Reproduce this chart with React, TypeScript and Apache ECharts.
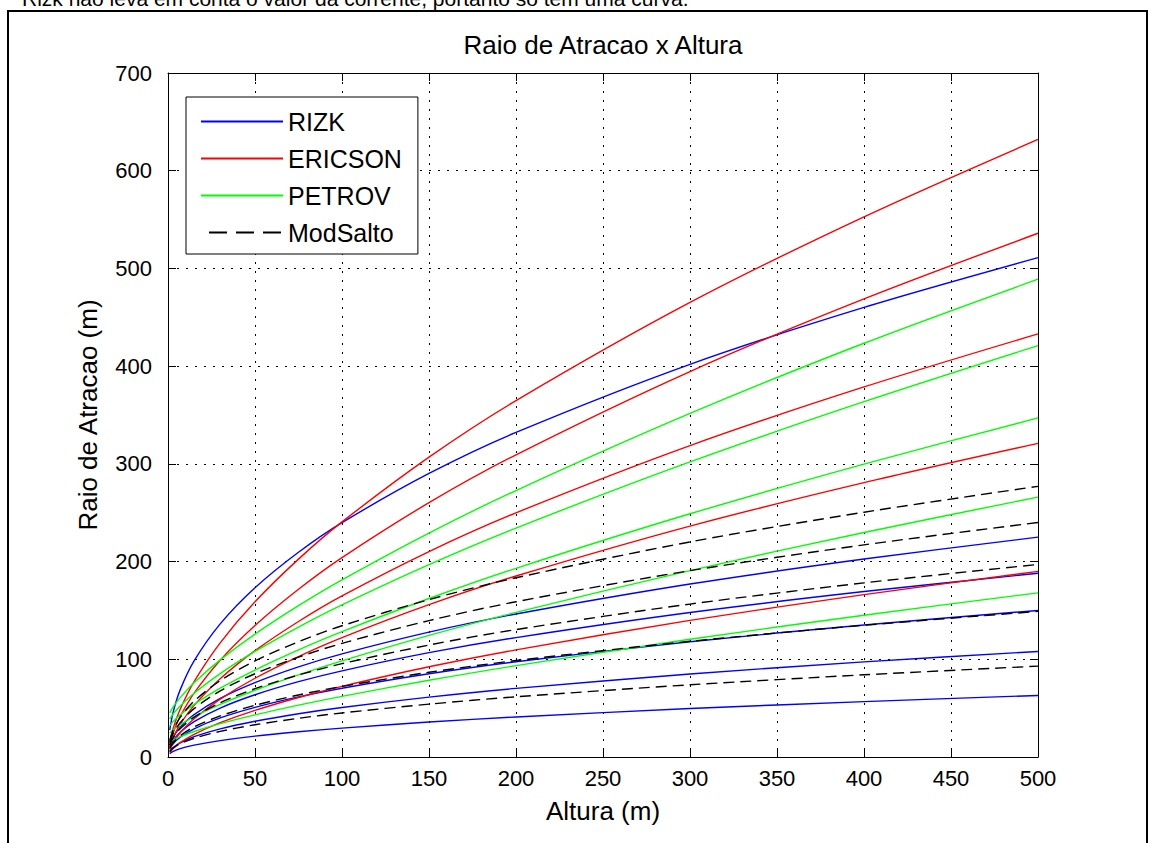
import React, { useEffect, useRef } from "react";
import * as echarts from "echarts";

// Altura (m) sample positions
const ALTURA = [1, 3, 7, 15, 30, 50, 75, 100, 150, 200, 300, 400, 500];

const X_TICKS = [0, 50, 100, 150, 200, 250, 300, 350, 400, 450, 500];
const Y_TICKS = [0, 100, 200, 300, 400, 500, 600, 700];

// RIZK (blue)
const RIZK_CURVES = [
  [27.5, 46.2, 68.7, 98.3, 136.2, 173.2, 209.5, 239.8, 290.2, 332.2, 401.9, 460.1, 511],
  [12.1, 20.3, 30.3, 43.3, 60.0, 76.2, 92.3, 105.6, 127.8, 146.3, 177.0, 202.6, 225],
  [10.1, 17.0, 25.3, 36.2, 50.1, 63.7, 77.1, 88.2, 106.8, 122.2, 147.9, 169.3, 188],
  [8.1, 13.6, 20.2, 28.9, 40.0, 50.8, 61.5, 70.4, 85.2, 97.5, 118.0, 135.1, 150],
  [5.8, 9.8, 14.5, 20.8, 28.8, 36.6, 44.3, 50.7, 61.3, 70.2, 85.0, 97.3, 108],
  [3.4, 5.7, 8.5, 12.1, 16.8, 21.4, 25.8, 29.6, 35.8, 41.0, 49.6, 56.7, 63],
];

// ERICSON (red)
const ERICSON_CURVES = [
  [15.2, 29.4, 48.8, 77.1, 116.8, 158.8, 202.5, 240.6, 306.9, 364.7, 465.2, 552.8, 632],
  [12.9, 24.9, 41.4, 65.4, 99.1, 134.6, 171.7, 204.1, 260.3, 309.3, 394.5, 468.8, 536],
  [10.4, 20.1, 33.4, 52.8, 80.1, 108.8, 138.7, 164.9, 210.3, 249.9, 318.7, 378.7, 433],
  [7.7, 14.9, 24.8, 39.2, 59.3, 80.6, 102.8, 122.2, 155.9, 185.2, 236.3, 280.8, 321],
  [4.6, 8.8, 14.7, 23.2, 35.1, 47.7, 60.9, 72.3, 92.3, 109.6, 139.8, 166.2, 190],
];

// PETROV (green)
const PETROV_CURVES = [
  [45.1, 51.3, 60.8, 76.1, 99.4, 125.8, 154.9, 181.3, 229.2, 272.7, 351.6, 423.4, 489],
  [38.8, 44.1, 52.2, 65.3, 85.4, 108.0, 133.0, 155.7, 196.9, 234.3, 302.0, 363.6, 421],
  [32.0, 36.3, 43.1, 53.8, 70.4, 89.0, 109.6, 128.3, 162.2, 193.1, 248.9, 299.7, 347],
  [24.5, 27.9, 33.0, 41.3, 53.9, 68.3, 84.0, 98.4, 124.4, 148.0, 190.8, 229.8, 266],
  [15.5, 17.6, 20.8, 26.1, 34.1, 43.1, 53.1, 62.1, 78.5, 93.5, 120.5, 145.1, 168],
];

// ModSalto (black dashed)
const MODSALTO_CURVES = [
  [16.9, 27.7, 40.6, 57.2, 78.1, 98.3, 118.0, 134.3, 161.1, 183.4, 220.1, 250.5, 277],
  [14.6, 24.0, 35.2, 49.5, 67.7, 85.2, 102.2, 116.3, 139.6, 158.9, 190.7, 217.1, 240],
  [12.0, 19.7, 28.9, 40.7, 55.6, 69.9, 83.9, 95.5, 114.6, 130.4, 156.5, 178.2, 197],
  [9.1, 14.9, 21.8, 30.8, 42.0, 52.9, 63.5, 72.2, 86.7, 98.7, 118.4, 134.8, 149],
  [5.7, 9.3, 13.6, 19.2, 26.2, 33.0, 39.6, 45.1, 54.1, 61.6, 73.9, 84.1, 93],
];

const LEGEND_NAMES = ["RIZK", "ERICSON", "PETROV", "ModSalto"];
const TITLE = "Raio de Atracao x Altura";
const X_NAME = "Altura (m)";
const Y_NAME = "Raio de Atracao (m)";
const NOTE = "Rizk não leva em conta o valor da corrente, portanto só tem uma curva.";

export default function App() {
  const ref = useRef<HTMLDivElement>(null);

  useEffect(() => {
    if (!ref.current) return;
    const chart = echarts.init(ref.current, null, { renderer: "svg" });
    const font = "'Liberation Sans', Arial, Helvetica, sans-serif";

    const makeSeries = (curves: number[][], name: string, color: string, dashed: boolean) =>
      curves.map((vals) => ({
        type: "line",
        name,
        data: ALTURA.map((x, i) => [x, vals[i]]),
        symbol: "none",
        showSymbol: false,
        smooth: 0.3,
        silent: true,
        itemStyle: { color },
        lineStyle: { color, width: 1.4, type: dashed ? [11, 6] : "solid" },
      }));

    const xMin = X_TICKS[0];
    const xMax = X_TICKS[X_TICKS.length - 1];
    const xInt = X_TICKS[1] - X_TICKS[0];
    const yMin = Y_TICKS[0];
    const yMax = Y_TICKS[Y_TICKS.length - 1];
    const yInt = Y_TICKS[1] - Y_TICKS[0];

    const axisLine = { show: true, onZero: false, lineStyle: { color: "#000", width: 1 } };
    const tick = { show: true, inside: true, length: 8, lineStyle: { color: "#000", width: 1 } };
    const split = { show: true, lineStyle: { color: "#000", width: 1, type: [2, 7] } };
    const nameStyle = { fontSize: 26, color: "#000", fontFamily: font };

    const legendData = LEGEND_NAMES.map((name, i) =>
      i === 3 ? { name, lineStyle: { type: [18, 9], dashOffset: 19 } } : { name }
    );

    chart.setOption({
      animation: false,
      backgroundColor: "#fff",
      grid: { left: 168, top: 73, width: 870, height: 684, containLabel: false },
      legend: {
        data: legendData,
        orient: "vertical",
        left: 186,
        top: 97,
        itemWidth: 82,
        itemHeight: 14,
        itemGap: 12,
        padding: [12, 16, 9, 14],
        borderColor: "#000",
        borderWidth: 1,
        backgroundColor: "#fff",
        selectedMode: false,
        itemStyle: { opacity: 0 },
        textStyle: { fontSize: 25, color: "#000", fontFamily: font },
        z: 10,
      },
      xAxis: [
        {
          type: "value",
          min: xMin,
          max: xMax,
          interval: xInt,
          position: "bottom",
          axisLine,
          axisTick: tick,
          axisLabel: { color: "#000", fontSize: 22, fontFamily: font, margin: 10 },
          splitLine: split,
          name: X_NAME,
          nameLocation: "middle",
          nameGap: 41,
          nameTextStyle: nameStyle,
        },
        {
          type: "value",
          min: xMin,
          max: xMax,
          interval: xInt,
          position: "top",
          axisLine,
          axisTick: tick,
          axisLabel: { show: false },
          splitLine: { show: false },
        },
      ],
      yAxis: [
        {
          type: "value",
          min: yMin,
          max: yMax,
          interval: yInt,
          position: "left",
          axisLine,
          axisTick: tick,
          axisLabel: { color: "#000", fontSize: 22, fontFamily: font, margin: 16 },
          splitLine: split,
          name: Y_NAME,
          nameLocation: "middle",
          nameGap: 67,
          nameTextStyle: nameStyle,
        },
        {
          type: "value",
          min: yMin,
          max: yMax,
          interval: yInt,
          position: "right",
          axisLine,
          axisTick: tick,
          axisLabel: { show: false },
          splitLine: { show: false },
        },
      ],
      graphic: [
        {
          type: "rect",
          silent: true,
          shape: { x: 8, y: 11, width: 1139, height: 900 },
          style: { fill: "none", stroke: "#000", lineWidth: 2 },
        },
        {
          type: "text",
          silent: true,
          x: 22,
          y: -2,
          style: {
            text: NOTE,
            fontSize: 21,
            fontFamily: font,
            fill: "#000",
            textAlign: "left",
            textVerticalAlign: "middle",
          },
        },
        {
          type: "text",
          silent: true,
          x: 603,
          y: 45,
          style: {
            text: TITLE,
            fontSize: 26,
            fontFamily: font,
            fill: "#000",
            textAlign: "center",
            textVerticalAlign: "middle",
          },
        },
      ],
      series: [
        ...makeSeries(RIZK_CURVES, LEGEND_NAMES[0], "#0000ff", false),
        ...makeSeries(ERICSON_CURVES, LEGEND_NAMES[1], "#ff0000", false),
        ...makeSeries(PETROV_CURVES, LEGEND_NAMES[2], "#00ff00", false),
        ...makeSeries(MODSALTO_CURVES, LEGEND_NAMES[3], "#000000", true),
      ],
    });

    return () => chart.dispose();
  }, []);

  return (
    <div
      ref={ref}
      style={{ position: "fixed", left: 0, top: 0, width: 1150, height: 843, background: "#fff" }}
    />
  );
}
